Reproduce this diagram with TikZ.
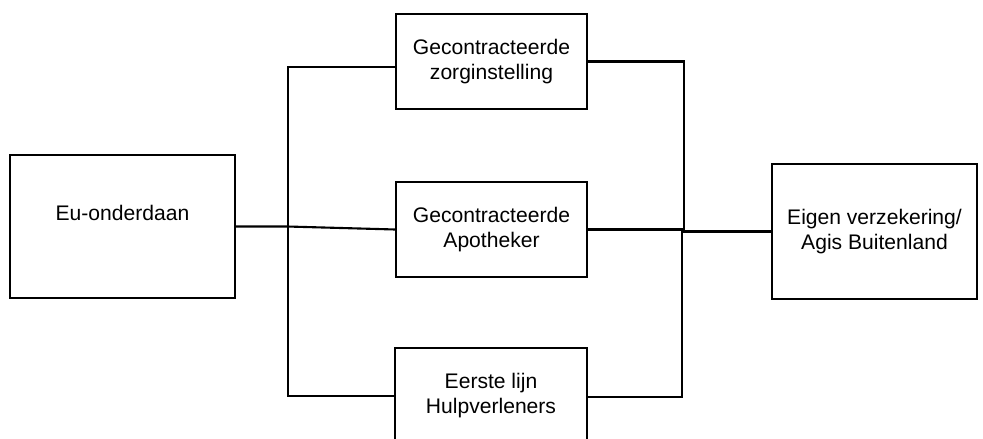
\documentclass[tikz,border=0pt]{standalone}
\usepackage{fontspec}
\setmainfont{Liberation Sans}
\usepackage{tikz}
\newcommand{\lijndikte}{1.2pt}
\tikzset{blok/.style={draw, line width=\lijndikte, align=center, inner sep=0pt,
  font=\fontsize{12}{14.2}\selectfont}}

\begin{document}
\begin{tikzpicture}[line width=\lijndikte]
 \useasboundingbox (0,0) rectangle (19.66,8.78);

 \node[blok, minimum width=4.5cm, minimum height=2.86cm, text depth=15pt] (eu) at (2.45,4.25) {Eu-onderdaan};
 \node[blok, minimum width=3.82cm, minimum height=1.9cm] (zorg) at (9.83,7.55) {Gecontracteerde\\zorginstelling};
 \node[blok, minimum width=3.82cm, minimum height=1.9cm] (apo) at (9.83,4.19) {Gecontracteerde\\Apotheker};
 \node[blok, minimum width=3.84cm, minimum height=1.9cm] (hulp) at (9.82,0.87) {Eerste lijn\\Hulpverleners};
 \node[blok, minimum width=4.1cm, minimum height=2.7cm] (agis) at (17.49,4.15) {Eigen verzekering/\\Agis Buitenland};

   % linkerkant
   \coordinate (jl) at (5.74,4.25);
   \coordinate (tl) at (5.76,7.44);
   \coordinate (bl) at (5.76,0.86);
   \draw (eu.east) -- (jl) -- (apo.west);
   \draw (zorg.west |- tl) -- (tl) -- (bl) -- (hulp.west |- bl);
   % rechterkant
   \coordinate (tr) at (13.68,7.55);
   \coordinate (mr) at (13.68,4.19);
   \coordinate (jr) at (13.64,4.15);
   \coordinate (br) at (13.64,0.84);
   \draw (zorg.east) -- (tr) -- (mr) -- (apo.east);
   \draw (hulp.east |- br) -- (br) -- (jr) -- (agis.west);

\end{tikzpicture}
\end{document}
